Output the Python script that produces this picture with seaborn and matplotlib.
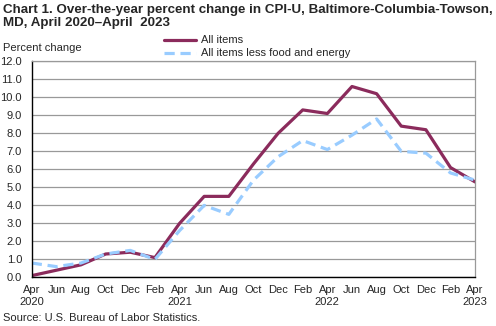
import numpy as np
import pandas as pd
import matplotlib
matplotlib.use("Agg")
import matplotlib.pyplot as plt
import seaborn as sns

months = ["Apr", "Jun", "Aug", "Oct", "Dec", "Feb", "Apr", "Jun", "Aug", "Oct",
          "Dec", "Feb", "Apr", "Jun", "Aug", "Oct", "Dec", "Feb", "Apr"]
years = ["2020", "", "", "", "", "", "2021", "", "", "", "", "", "2022",
         "", "", "", "", "", "2023"]
all_items = [0.1, 0.4, 0.7, 1.3, 1.4, 1.1, 3.0, 4.5, 4.5, 6.3,
             8.0, 9.3, 9.1, 10.6, 10.2, 8.4, 8.2, 6.1, 5.3]
core_items = [0.8, 0.6, 0.8, 1.3, 1.5, 1.0, 2.6, 4.0, 3.5, 5.4,
              6.7, 7.6, 7.1, 7.9, 8.8, 7.0, 6.9, 5.8, 5.4]
series_names = ["All items", "All items less food and energy"]

df = pd.DataFrame({
    "period": list(range(len(months))) * 2,
    "value": all_items + core_items,
    "series": [series_names[0]] * len(months) + [series_names[1]] * len(months),
})

sns.set_style("white")
plt.rcParams["font.family"] = ["Liberation Sans", "DejaVu Sans"]

fig = plt.figure(figsize=(4.96, 3.26), dpi=100)
ax = fig.add_axes([0.064, 0.149, 0.894, 0.663])

dash = (3.2, 1.8)
palette = {series_names[0]: "#8B2B5C", series_names[1]: "#99CCFF"}
sns.lineplot(data=df, x="period", y="value", hue="series", style="series",
             palette=palette, dashes={series_names[0]: "", series_names[1]: dash},
             linewidth=2.3, ax=ax, legend=False)

ax.set_xlim(0, len(months) - 1)
ax.set_ylim(0, 12)
ax.set_yticks(np.arange(0, 12.1, 1.0))
ax.set_yticklabels([f"{v:.1f}" for v in np.arange(0, 12.1, 1.0)], fontsize=8)
ax.set_xticks(range(len(months)))
ax.set_xticklabels([f"{m}\n{y}" for m, y in zip(months, years)], fontsize=8,
                   linespacing=1.25)
ax.set_xlabel("")
ax.set_ylabel("")

ax.grid(axis="y", color="#999999", linewidth=0.9)
ax.set_axisbelow(True)
for side in ["top", "right"]:
    ax.spines[side].set_color("#999999")
    ax.spines[side].set_linewidth(0.9)
for side in ["left", "bottom"]:
    ax.spines[side].set_color("black")
    ax.spines[side].set_linewidth(1.0)
ax.tick_params(axis="x", direction="inout", length=7, width=0.9, color="black", pad=2)
ax.tick_params(axis="y", length=0, pad=7)

# legend entries drawn by hand above the plot area
leg_x0, leg_x1, leg_tx = 0.33, 0.395, 0.405
for yy, name in zip([0.878, 0.838], series_names):
    ls = "-" if name == series_names[0] else (0, dash)
    fig.add_artist(plt.Line2D([leg_x0, leg_x1], [yy, yy], transform=fig.transFigure,
                              color=palette[name], linewidth=2.3, linestyle=ls))
    fig.text(leg_tx, yy, name, fontsize=8, va="center", ha="left")

fig.text(0.006, 0.988, "Chart 1. Over-the-year percent change in CPI-U, Baltimore-Columbia-Towson,\nMD, April 2020\u2013April  2023",
         fontsize=9.6, fontweight="bold", va="top", ha="left", linespacing=1.15)
fig.text(0.006, 0.853, "Percent change", fontsize=8, va="center", ha="left")
fig.text(0.006, 0.025, "Source: U.S. Bureau of Labor Statistics.", fontsize=8,
         va="center", ha="left")

fig.savefig("out.png", dpi=100)
